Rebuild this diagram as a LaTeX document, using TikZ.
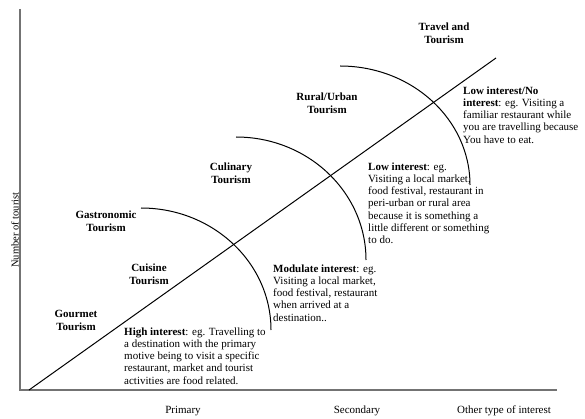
\documentclass[tikz,border=0pt]{standalone}
\usepackage{fontspec}
\setmainfont{Liberation Serif}
\begin{document}
\begin{tikzpicture}[x=1pt,y=-1pt,
  lbl/.style={font=\fontsize{11}{13}\selectfont\bfseries, align=center, inner sep=0pt, anchor=north},
  desc/.style={font=\fontsize{11}{12.2}\selectfont, align=left, inner sep=0pt, anchor=north west},
  axl/.style={font=\fontsize{11}{13}\selectfont, inner sep=0pt},
  axisline/.style={draw=black!55, line width=1.6pt},
  curve/.style={draw=black, line width=1pt}]
\useasboundingbox (0,0) rectangle (585,419);
% axes
\coordinate (ytop) at (20,9);
\coordinate (O) at (20,390);
\coordinate (xend) at (557,390);
\draw[axisline] (ytop) -- (O) -- (xend);
% diagonal
\coordinate (dstart) at (29,390);
\coordinate (dend) at (496,58);
\draw[curve] (dstart) -- (dend);
% arcs
\coordinate (a1) at (141,208);
\coordinate (a2) at (236,137);
\coordinate (a3) at (340,66);
\draw[curve] (a1) arc[start angle=-90, end angle=0, x radius=130, y radius=122];
\draw[curve] (a2) arc[start angle=-90, end angle=0, x radius=130, y radius=123];
\draw[curve] (a3) arc[start angle=-90, end angle=0, x radius=130, y radius=119];
% category labels
\node[lbl] (travel) at (444,22.5) {Travel and\\Tourism};
\node[lbl] (rural) at (327,92.5) {Rural/Urban\\Tourism};
\node[lbl] (culinary) at (231,162.5) {Culinary\\Tourism};
\node[lbl] (gastro) at (106,210.5) {Gastronomic\\Tourism};
\node[lbl] (cuisine) at (149,263.5) {Cuisine\\Tourism};
\node[lbl] (gourmet) at (76,310.5) {Gourmet\\Tourism};
% descriptions
\node[desc] (high) at (124,327.5) {\textbf{High interest}: eg. Travelling to\\a destination with the primary\\motive being to visit a specific\\restaurant, market and tourist\\activities are food related.};
\node[desc] (modulate) at (273,264.5) {\textbf{Modulate interest}: eg.\\Visiting a local market,\\food festival, restaurant\\when arrived at a\\destination..};
\node[desc] (low) at (368,162.5) {\textbf{Low interest}: eg.\\Visiting a local market,\\food festival, restaurant in\\peri-urban or rural area\\because it is something a\\little different or something\\to do.};
\node[desc] (lowno) at (463,86.5) {\textbf{Low interest/No}\\\textbf{interest}: eg. Visiting a\\familiar restaurant while\\you are travelling because\\You have to eat.};
% axis labels
\node[axl] (primary) at (183,411) {Primary};
\node[axl] (secondary) at (357,411) {Secondary};
\node[axl] (other) at (504,411) {Other type of interest};
\node[axl, font=\fontsize{10.5}{12}\selectfont, rotate=90] (ylab) at (15,230) {Number of tourist};
\end{tikzpicture}
\end{document}
